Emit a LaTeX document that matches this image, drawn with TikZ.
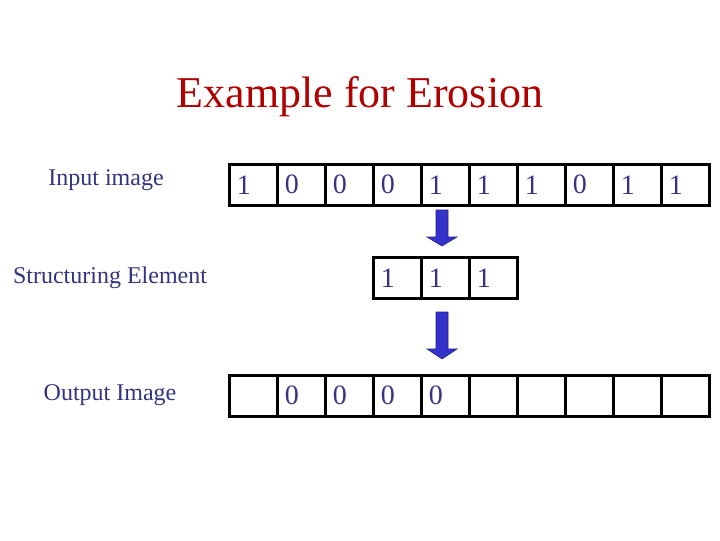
\documentclass[tikz,border=0pt]{standalone}
\usepackage{fontspec}
\setmainfont{Liberation Serif}
\definecolor{txt}{HTML}{333380}
\definecolor{ttl}{HTML}{B00000}
\definecolor{arr}{HTML}{3333CC}
\begin{document}
\begin{tikzpicture}[x=0.75pt,y=-0.75pt,
  cell/.style={draw=black,line width=2.2pt,minimum width=36pt,minimum height=30.5pt,inner sep=0pt,text=txt,font=\fontsize{21}{21}\selectfont,anchor=north west,text width=33pt,align=left},
  lab/.style={text=txt,font=\fontsize{18}{18}\selectfont},
  bigarrow/.style={fill=arr,draw=arr!60!black}]
\useasboundingbox (0,0) rectangle (720,540);
\node[text=ttl,font=\fontsize{33}{33}\selectfont] (title) at (360,97) {Example for Erosion};
\node[lab] (l1) at (106,180) {Input image};
\node[lab] (l2) at (110,278) {Structuring Element};
\node[lab] (l3) at (110,395) {Output Image};
\foreach \v [count=\i from 0] in {1,0,0,0,1,1,1,0,1,1}
  \node[cell] (in\i) at (228+48*\i,163) {\hspace{4pt}\v};
\foreach \v [count=\i from 0] in {1,1,1}
  \node[cell] (se\i) at (372+48*\i,256) {\hspace{4pt}\v};
\foreach \v [count=\i from 0] in {{},0,0,0,0,{},{},{},{},{}}
  \node[cell] (out\i) at (228+48*\i,374) {\hspace{4pt}\v};
\draw[bigarrow] (436,210) -- (448,210) -- (448,237) -- (457,237) -- (442,246) -- (427,237) -- (436,237) -- cycle;
\draw[bigarrow] (436,312) -- (448,312) -- (448,349) -- (457,349) -- (442,359) -- (427,349) -- (436,349) -- cycle;
\end{tikzpicture}
\end{document}
